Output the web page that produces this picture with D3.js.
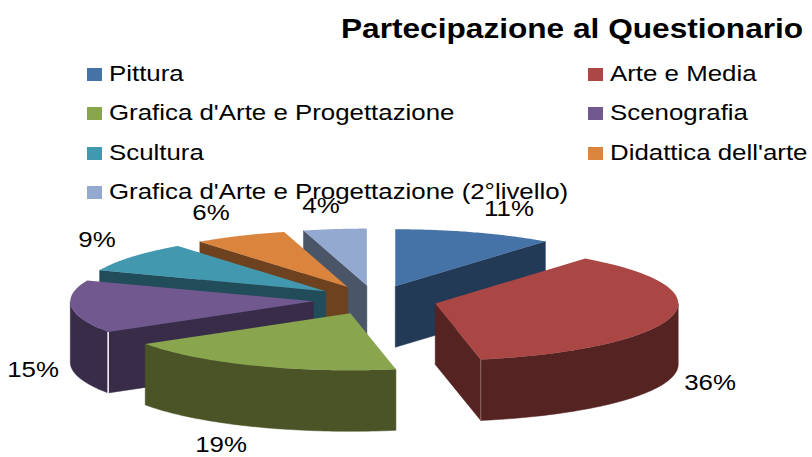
<!DOCTYPE html>
<html>
<head>
<meta charset="utf-8">
<script src="https://cdn.jsdelivr.net/npm/d3@7"></script>
<style>
  body { margin: 0; background: #fff; }
  text { font-family: "Liberation Sans", Arial, sans-serif; fill: #000; }
</style>
</head>
<body>
<div id="chart"></div>
<script>
const categories = ["Pittura", "Arte e Media", "Grafica d'Arte e Progettazione", "Scenografia", "Scultura", "Didattica dell'arte", "Grafica d'Arte e Progettazione (2°livello)"];
// read from the slice edges, labels show them rounded
const values = [10.6, 36.4, 19, 15, 8.6, 6.2, 4.2];
const topColors = ["#4572a7", "#aa4643", "#89a54e", "#71588f", "#4198af", "#db843d", "#93a9cf"];
const sideColors = ["#233a56", "#552322", "#4a5426", "#392c48", "#214c5a", "#6e421f", "#4a5568"];

const width = 812, height = 457;
const centre = { x: 375, y: 300 };
const rx = 243, ry = 57, depth = 61;
const explode = 0.255;
const textStretch = 1.175, titleStretch = 1.13;

// label spots, chart has them placed by hand
const labelSpots = [[509, 216], [710, 390], [221, 452], [33, 377], [97, 247], [211, 220], [321, 213]];
// legend rows and columns
const legendX = [87, 588];
const legendY = [74, 113, 153, 192];

const svg = d3.select("#chart")
  .append("svg")
    .attr("width", width)
    .attr("height", height);

const xScale = d3.scaleLinear().domain([-1, 1]).range([centre.x - rx, centre.x + rx]);
const yScale = d3.scaleLinear().domain([-1, 1]).range([centre.y - ry, centre.y + ry]);

const pie = d3.pie().sort(null).value(d => d.value);
const slices = pie(categories.map((name, i) => ({ name, value: values[i], i })));

// px offset of a slice from the unexploded centre
const offset = s => {
    const mid = (s.startAngle + s.endAngle) / 2;
    return { dx: xScale(explode * Math.sin(mid)) - centre.x, dy: yScale(-explode * Math.cos(mid)) - centre.y };
};

const rimPoint = (s, a) => {
    const o = offset(s);
    return [xScale(Math.sin(a)) + o.dx, yScale(-Math.cos(a)) + o.dy];
};
const apexPoint = s => {
    const o = offset(s);
    return [centre.x + o.dx, centre.y + o.dy];
};
const rimPoints = (s, a0, a1) => d3.range(0, 61).map(k => rimPoint(s, a0 + (a1 - a0) * k / 60));
const down = p => [p[0], p[1] + depth];
const line = d3.line();

// back to front
const order = slices.slice().sort((a, b) => apexPoint(a)[1] - apexPoint(b)[1]);

order.forEach(s => {
    const g = svg.append("g");
    const apex = apexPoint(s);
    const side = sideColors[s.data.i];

    // radial walls
    [s.startAngle, s.endAngle].forEach((a, k) => {
        const visible = k === 0 ? Math.sin(a) < -1e-6 : Math.sin(a) > 1e-6;
        if (!visible) return;
        const p = rimPoint(s, a);
        g.append("path")
            .attr("d", line([apex, p, down(p), down(apex)]) + "Z")
            .attr("fill", side)
            .attr("stroke", side)
            .attr("stroke-width", 0.5);
    });

    // outer wall, only the south half of the rim
    const a0 = Math.max(s.startAngle, Math.PI / 2);
    const a1 = Math.min(s.endAngle, Math.PI * 1.5);
    if (a1 > a0) {
        const rim = rimPoints(s, a0, a1);
        g.append("path")
            .attr("d", line(rim.concat(rim.map(down).reverse())) + "Z")
            .attr("fill", side)
            .attr("stroke", side)
            .attr("stroke-width", 0.5);
        // pale seam where wall meets rim
        if (s.endAngle < Math.PI * 1.5 && Math.sin(s.endAngle) > 0) {
            const p = rimPoint(s, s.endAngle);
            g.append("path").attr("d", line([p, down(p)]))
                .attr("stroke", "#fff").attr("stroke-opacity", 0.3).attr("stroke-width", 1);
        }
        if (s.startAngle > Math.PI && s.startAngle < Math.PI * 1.5) {
            const p = rimPoint(s, s.startAngle);
            g.append("path").attr("d", line([p, down(p)]))
                .attr("stroke", "#fff").attr("stroke-width", 1.5);
        }
    }

    // top face
    g.append("path")
        .attr("d", line([apex].concat(rimPoints(s, s.startAngle, s.endAngle))) + "Z")
        .attr("fill", topColors[s.data.i]);
});

// percent labels
svg.append("g").selectAll("text")
    .data(slices)
    .join("text")
    .attr("transform", (d, i) => `translate(${labelSpots[i][0]},${labelSpots[i][1]}) scale(${textStretch},1)`)
    .attr("text-anchor", "middle")
    .attr("font-size", 22)
    .text(d => d3.format(".0f")(d.value) + "%");

// legend
const legend = svg.append("g").selectAll("g")
    .data(categories)
    .join("g")
    .attr("transform", (d, i) => `translate(${legendX[i % 2 === 1 ? 1 : 0]},${legendY[Math.floor(i / 2)]})`);

legend.append("rect")
    .attr("y", -6)
    .attr("width", 15)
    .attr("height", 13)
    .attr("fill", (d, i) => topColors[i]);

legend.append("text")
    .attr("transform", `translate(22,6.5) scale(${textStretch},1)`)
    .attr("font-size", 22)
    .text(d => d);

svg.append("text")
    .attr("transform", `translate(341,37.5) scale(${titleStretch},1)`)
    .attr("font-size", 28)
    .attr("font-weight", "bold")
    .text("Partecipazione al Questionario");
</script>
</body>
</html>
